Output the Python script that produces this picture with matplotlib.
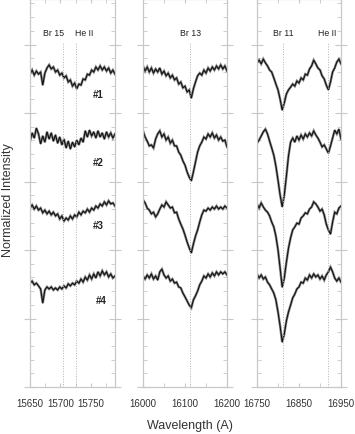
import numpy as np
import matplotlib
matplotlib.use("Agg")
import matplotlib.pyplot as plt
from matplotlib.ticker import MultipleLocator

plt.rcParams['font.family'] = ['Liberation Sans', 'DejaVu Sans']

# ---------------- data ----------------
wl_p1 = np.linspace(15650, 15790, 41)
wl_p2 = np.linspace(16000, 16200, 41)
wl_p3 = np.linspace(16750, 16950, 41)

p1_s1 = [0.985, 0.997, 0.982, 0.994, 0.985, 0.991, 0.953, 0.988, 1.003, 1.012,
         1.000, 1.006, 0.991, 0.997, 0.982, 0.988, 0.974, 0.980, 0.962, 0.968,
         0.950, 0.959, 0.942, 0.956, 0.953, 0.971, 0.968, 0.985, 0.982, 0.997,
         0.991, 1.006, 0.997, 1.009, 0.997, 1.006, 0.994, 1.003, 0.988, 0.997, 0.985]
p1_s2 = [0.988, 1.012, 0.997, 1.026, 1.009, 0.980, 1.003, 0.985, 1.015, 0.994,
         1.012, 0.988, 1.006, 0.982, 1.000, 0.977, 0.994, 0.968, 0.988, 0.965,
         0.985, 0.971, 0.991, 0.977, 0.997, 0.985, 1.018, 1.000, 1.020, 1.003,
         1.015, 0.997, 1.018, 1.000, 1.012, 0.994, 1.015, 1.000, 1.012, 0.997, 1.009]
p1_s3 = [0.994, 1.003, 0.991, 1.000, 0.988, 0.994, 0.980, 0.988, 0.977, 0.985,
         0.974, 0.982, 0.971, 0.977, 0.962, 0.971, 0.956, 0.965, 0.959, 0.971,
         0.962, 0.974, 0.968, 0.982, 0.974, 0.985, 0.980, 0.991, 0.982, 0.994,
         0.988, 1.000, 0.994, 1.006, 1.000, 1.012, 1.003, 1.015, 1.006, 1.009, 1.000]
p1_s4 = [0.982, 0.988, 0.977, 0.982, 0.974, 0.965, 0.924, 0.962, 0.971, 0.965,
         0.971, 0.962, 0.968, 0.962, 0.971, 0.965, 0.974, 0.968, 0.980, 0.974,
         0.982, 0.977, 0.988, 0.982, 0.994, 0.985, 1.000, 0.991, 1.006, 0.994,
         1.009, 0.997, 1.015, 1.003, 1.018, 1.006, 1.015, 1.000, 1.009, 0.997, 1.003]

p2_s1 = [1.009, 0.994, 1.006, 0.991, 1.003, 0.988, 1.000, 0.991, 1.003, 0.985,
         0.994, 0.980, 0.988, 0.974, 0.982, 0.968, 0.974, 0.956, 0.962, 0.945,
         0.950, 0.933, 0.939, 0.915, 0.942, 0.962, 0.980, 0.988, 0.982, 0.997,
         0.988, 1.003, 0.994, 1.006, 0.997, 1.009, 1.000, 1.012, 1.000, 1.009, 0.994]
p2_s2 = [1.018, 1.000, 0.988, 0.974, 0.977, 0.968, 0.994, 1.009, 1.018, 1.000,
         1.009, 0.991, 1.000, 0.982, 0.991, 0.974, 0.974, 0.956, 0.947, 0.930,
         0.918, 0.898, 0.883, 0.872, 0.898, 0.927, 0.956, 0.974, 0.985, 1.000,
         0.994, 1.009, 1.000, 1.012, 0.997, 1.006, 0.991, 1.000, 0.988, 0.991, 0.971]
p2_s3 = [1.018, 1.009, 0.994, 0.988, 0.977, 0.982, 0.968, 0.977, 0.991, 1.003,
         0.997, 1.012, 1.003, 0.994, 0.997, 0.980, 0.982, 0.962, 0.947, 0.933,
         0.915, 0.895, 0.878, 0.863, 0.889, 0.912, 0.930, 0.953, 0.974, 0.988,
         0.985, 0.994, 0.988, 0.997, 0.991, 1.000, 0.991, 0.997, 0.991, 1.000, 0.994]
p2_s4 = [1.003, 0.994, 1.006, 0.997, 1.009, 0.994, 1.003, 0.991, 1.015, 1.023,
         1.006, 0.997, 1.003, 0.988, 0.994, 0.982, 0.985, 0.971, 0.968, 0.953,
         0.942, 0.930, 0.918, 0.910, 0.933, 0.945, 0.959, 0.977, 0.988, 1.003,
         0.997, 1.009, 1.000, 1.012, 1.003, 1.015, 1.006, 1.015, 1.009, 1.015, 1.006]

p3_s1 = [1.018, 1.026, 1.015, 1.029, 1.018, 1.009, 0.997, 0.991, 0.974, 0.956,
         0.939, 0.912, 0.880, 0.901, 0.927, 0.939, 0.947, 0.956, 0.950, 0.965,
         0.959, 0.974, 0.968, 0.985, 0.982, 1.000, 1.009, 1.026, 1.015, 1.003,
         0.997, 0.980, 0.971, 0.953, 0.939, 0.962, 0.991, 1.003, 1.020, 1.029, 1.015]
p3_s2 = [0.982, 0.991, 1.003, 1.015, 1.023, 1.009, 0.988, 0.968, 0.947, 0.915,
         0.874, 0.831, 0.796, 0.831, 0.886, 0.945, 0.985, 0.997, 0.985, 1.003,
         0.991, 1.006, 0.994, 1.009, 1.000, 1.012, 1.003, 1.018, 1.006, 0.997,
         0.985, 0.971, 0.977, 0.965, 0.953, 0.974, 0.997, 1.020, 1.009, 1.023, 0.994]
p3_s3 = [1.006, 0.994, 1.009, 0.997, 0.988, 0.982, 0.971, 0.953, 0.939, 0.912,
         0.872, 0.819, 0.763, 0.790, 0.836, 0.877, 0.907, 0.930, 0.939, 0.950,
         0.947, 0.965, 0.971, 0.980, 0.977, 0.991, 0.997, 1.012, 1.006, 0.997,
         0.985, 0.991, 0.974, 0.947, 0.930, 0.918, 0.953, 0.982, 0.977, 0.994, 1.000]
p3_s4 = [1.009, 0.997, 1.006, 0.994, 1.000, 0.985, 0.977, 0.965, 0.953, 0.933,
         0.898, 0.857, 0.810, 0.834, 0.872, 0.898, 0.918, 0.939, 0.950, 0.965,
         0.971, 0.985, 0.982, 0.997, 0.991, 1.006, 0.997, 1.009, 1.000, 1.006,
         0.994, 1.003, 0.991, 1.006, 1.015, 1.029, 1.015, 0.997, 0.988, 0.997, 0.985]

spectrum_labels = ['#1', '#2', '#3', '#4']
line_names_p1 = ['Br 15', 'He II']
line_wl_p1 = [15705, 15725]
line_names_p2 = ['Br 13']
line_wl_p2 = [16113]
line_names_p3 = ['Br 11', 'He II']
line_wl_p3 = [16812, 16920]

x_ticklabels_p1 = [15650, 15700, 15750]
x_ticklabels_p2 = [16000, 16100, 16200]
x_ticklabels_p3 = [16750, 16850, 16950]

# vertical offsets for stacking (levels of the continua)
levels = [0.9285, 0.7299, 0.5285, 0.3212]

# ---------------- figure ----------------
fig = plt.figure(figsize=(3.55, 4.35), dpi=100)
W, H = 355.0, 435.0
bottom_px = 388.0
ax_bottom = (H - bottom_px) / H
ax_height = 1.0 - ax_bottom

panels = [
    dict(left=30, width=85, wl=wl_p1, spec=[p1_s1, p1_s2, p1_s3, p1_s4],
         xlim=(15650, 15790), minor=25, ticks=x_ticklabels_p1,
         names=line_names_p1, lines=line_wl_p1, ha=['right', 'left'],
         dx=[1.5, -1.0]),
    dict(left=143, width=84, wl=wl_p2, spec=[p2_s1, p2_s2, p2_s3, p2_s4],
         xlim=(16000, 16200), minor=50, ticks=x_ticklabels_p2,
         names=line_names_p2, lines=line_wl_p2, ha=['center'], dx=[0]),
    dict(left=257, width=84, wl=wl_p3, spec=[p3_s1, p3_s2, p3_s3, p3_s4],
         xlim=(16750, 16950), minor=50, ticks=x_ticklabels_p3,
         names=line_names_p3, lines=line_wl_p3, ha=['center', 'center'],
         dx=[0, -3]),
]

grey = '#c8c8c8'
ytop = bottom_px / 342.5

axes = []
for i, p in enumerate(panels):
    ax = fig.add_axes([p['left'] / W, ax_bottom, p['width'] / W, ax_height])
    axes.append(ax)
    ax.set_xlim(*p['xlim'])
    ax.set_ylim(0, ytop)
    for s, lev in zip(p['spec'], levels):
        y = np.array(s) - 1.0 + lev
        ax.plot(p['wl'], y, color='#8a8a8a', lw=1.8, solid_joinstyle='miter')
        ax.plot(p['wl'], y, color='#111111', lw=0.8)
    for name, lw_, ha, dx in zip(p['names'], p['lines'], p['ha'], p['dx']):
        ax.axvline(lw_, ymin=0, ymax=1.007 / ytop, color='#b0b0b0', ls=':', lw=0.7)
        ax.text(lw_ + dx, 1.034, name, ha=ha, va='center', fontsize=6.3,
                color='#222222')
    ax.set_xticks(p['ticks'])
    ax.set_xticklabels([str(t) for t in p['ticks']], fontsize=7, color='#333333')
    ax.xaxis.set_minor_locator(MultipleLocator(p['minor']))
    ax.yaxis.set_major_locator(MultipleLocator(0.2))
    ax.yaxis.set_minor_locator(MultipleLocator(0.04))
    ax.tick_params(axis='x', which='both', direction='in', length=3, color=grey,
                   top=True, bottom=True, pad=8)
    ax.tick_params(axis='y', which='major', direction='inout', length=8,
                   color=grey, left=True, right=True, labelleft=False)
    ax.tick_params(axis='y', which='minor', direction='in', length=3,
                   color=grey, left=True, right=True)
    for sp in ax.spines.values():
        sp.set_color(grey)
        sp.set_linewidth(0.9)

# spectrum labels in the first panel
lab_x = [15763, 15763, 15763, 15768]
lab_y = [0.855, 0.657, 0.473, 0.254]
for t, xx, yy in zip(spectrum_labels, lab_x, lab_y):
    axes[0].text(xx, yy, t, ha='center', va='center', fontsize=7,
                 fontweight='bold', color='#222222')

fig.text(8 / W, 1 - 200 / H, 'Normalized Intensity', rotation=90,
         ha='center', va='center', fontsize=9, color='#333333')
fig.text(190 / W, 1 - 426 / H, 'Wavelength (A)', ha='center', va='center',
         fontsize=9, color='#333333')

fig.savefig('out.png', dpi=100)
